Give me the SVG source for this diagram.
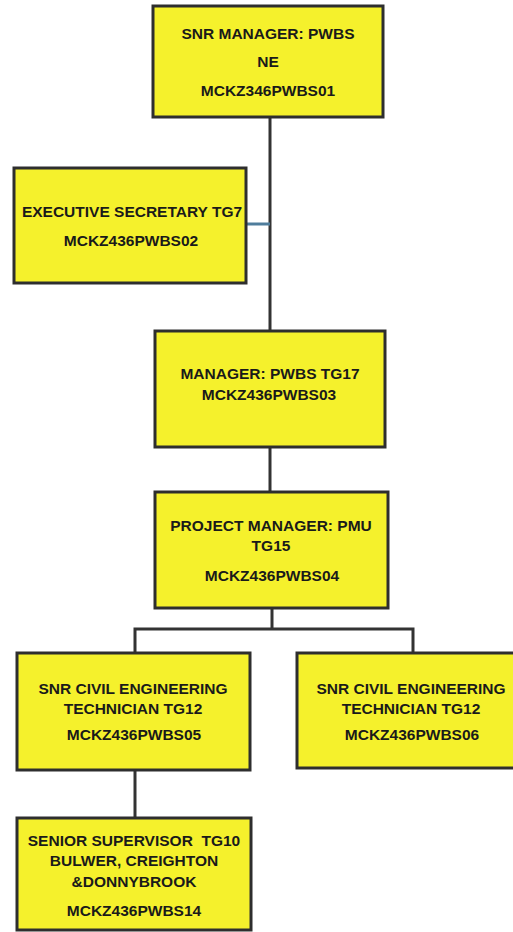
<svg xmlns="http://www.w3.org/2000/svg" width="513" height="932" viewBox="0 0 513 932">
<style>
.box{fill:#f5f12c;stroke:#2e2e2e;stroke-width:3}
.t{font-family:"Liberation Sans",Arial,sans-serif;font-weight:bold;font-size:15.5px;fill:#1a1a1a;text-anchor:middle}
.ln{fill:none;stroke:#333;stroke-width:3}
.bl{fill:none;stroke:#4f7d9c;stroke-width:3}
</style>
<rect width="513" height="932" fill="#ffffff"/>
<g id="connectors">
<line class="ln" x1="270" y1="117" x2="270" y2="331"/>
<line class="bl" x1="246" y1="224" x2="270" y2="224"/>
<line class="ln" x1="270" y1="447" x2="270" y2="492"/>
<line class="ln" x1="272" y1="608" x2="272" y2="629"/>
<polyline class="ln" points="135,653 135,629 413,629 413,653"/>
<line class="ln" x1="135" y1="770" x2="135" y2="818"/>
</g>
<g id="n1">
<rect class="box" x="153" y="6" width="230" height="111"/>
<text class="t" x="268" y="39">SNR MANAGER: PWBS</text>
<text class="t" x="268" y="67" fill="#3a3a28">NE</text>
<text class="t" x="268" y="96">MCKZ346PWBS01</text>
</g>
<g id="n2">
<rect class="box" x="14" y="168" width="232" height="115"/>
<text class="t" x="132" y="217">EXECUTIVE SECRETARY TG7</text>
<text class="t" x="131" y="246">MCKZ436PWBS02</text>
</g>
<g id="n3">
<rect class="box" x="155" y="331" width="230" height="116"/>
<text class="t" x="270" y="379">MANAGER: PWBS TG17</text>
<text class="t" x="269" y="400">MCKZ436PWBS03</text>
</g>
<g id="n4">
<rect class="box" x="155" y="492" width="233" height="116"/>
<text class="t" x="271" y="531">PROJECT MANAGER: PMU</text>
<text class="t" x="271" y="551">TG15</text>
<text class="t" x="272" y="581">MCKZ436PWBS04</text>
</g>
<g id="n5">
<rect class="box" x="17" y="653" width="233" height="117"/>
<text class="t" x="133" y="694">SNR CIVIL ENGINEERING</text>
<text class="t" x="133" y="714">TECHNICIAN TG12</text>
<text class="t" x="134" y="740">MCKZ436PWBS05</text>
</g>
<g id="n6">
<rect class="box" x="297" y="653" width="220" height="115"/>
<text class="t" x="411" y="694">SNR CIVIL ENGINEERING</text>
<text class="t" x="411" y="714">TECHNICIAN TG12</text>
<text class="t" x="412" y="740">MCKZ436PWBS06</text>
</g>
<g id="n7">
<rect class="box" x="17" y="818" width="234" height="112"/>
<text class="t" x="134" y="846" xml:space="preserve">SENIOR SUPERVISOR  TG10</text>
<text class="t" x="134" y="866">BULWER, CREIGHTON</text>
<text class="t" x="134" y="887">&amp;DONNYBROOK</text>
<text class="t" x="134" y="916">MCKZ436PWBS14</text>
</g>
</svg>
